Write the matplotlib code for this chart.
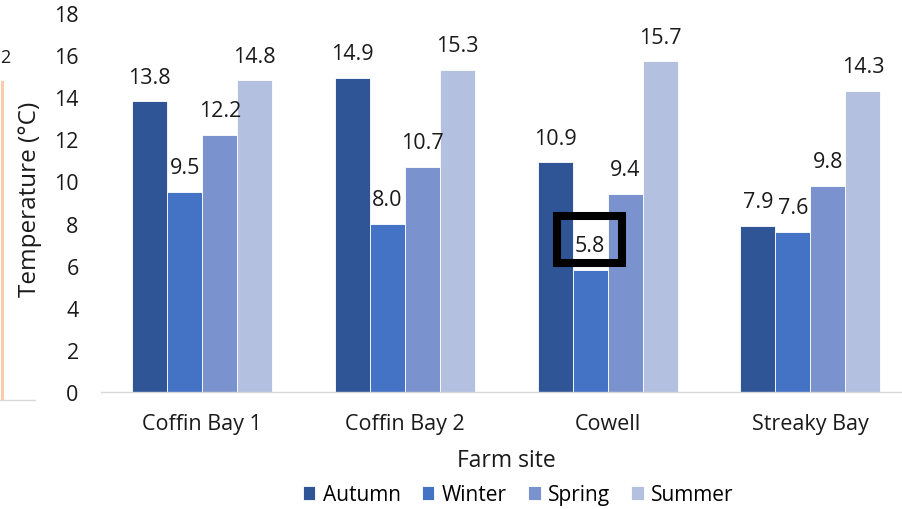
import matplotlib
matplotlib.use("Agg")
import matplotlib.pyplot as plt
import numpy as np
from matplotlib.patches import Rectangle
from matplotlib.lines import Line2D

plt.rcParams['font.family'] = ['Open Sans', 'DejaVu Sans']

sites = ["Coffin Bay 1", "Coffin Bay 2", "Cowell", "Streaky Bay"]
seasons = ["Autumn", "Winter", "Spring", "Summer"]
autumn = [13.8, 14.9, 10.9, 7.9]
winter = [9.5, 8.0, 5.8, 7.6]
spring = [12.2, 10.7, 9.4, 9.8]
summer = [14.8, 15.3, 15.7, 14.3]
season_colors = ["#2F5597", "#4472C4", "#7A93CF", "#B4C0E0"]
y_ticks = [0, 2, 4, 6, 8, 10, 12, 14, 16, 18]

W, H = 902, 510
fig = plt.figure(figsize=(W / 100, H / 100), dpi=100)
ax = fig.add_axes([100.9 / W, 117 / H, 810.8 / W, 379 / H])

x = np.arange(len(sites))
bw = 0.1727
series = [autumn, winter, spring, summer]
for i, (name, vals, col) in enumerate(zip(seasons, series, season_colors)):
    offs = (i - 1.5) * bw
    bars = ax.bar(x + offs, vals, bw, color=col, label=name,
                  edgecolor="white", linewidth=0.6, zorder=2)
    for b, v in zip(bars, vals):
        ax.annotate(f"{v:.1f}", (b.get_x() + b.get_width() / 2, v),
                    xytext=(0, 17.5), textcoords="offset points",
                    ha="center", va="center", fontsize=15.5, color="#1a1a1a")

ax.set_xlim(-0.5, 3.5)
ax.set_ylim(0, 18)
ax.set_yticks(y_ticks)
ax.set_xticks(x)
ax.set_xticklabels(sites)
ax.tick_params(axis="both", length=0, labelsize=15.5, colors="#1a1a1a")
ax.tick_params(axis="y", pad=16)
ax.tick_params(axis="x", pad=15)
for s in ["top", "right", "left"]:
    ax.spines[s].set_visible(False)
ax.spines["bottom"].set_color("#D9D9D9")
ax.spines["bottom"].set_linewidth(1.0)
ax.spines["bottom"].set_zorder(3)

fig.text(30 / W, 1 - 199 / H, "Temperature (°C)", rotation=90,
         ha="center", va="center", fontsize=17.5, color="#1a1a1a")
fig.text(506 / W, 1 - 461 / H, "Farm site", ha="center", va="center",
         fontsize=16.5, color="#1a1a1a")

ax.legend(loc="center", bbox_to_anchor=(518 / W, 1 - 496 / H),
          bbox_transform=fig.transFigure, ncol=4, frameon=False,
          fontsize=15, handlelength=0.62, handleheight=0.62,
          handletextpad=0.35, columnspacing=1.0, borderpad=0)

# highlight box around the Cowell winter value
fig.add_artist(Rectangle((557 / W, 1 - 264 / H), 65 / W, 47 / H,
                         transform=fig.transFigure, fill=False,
                         edgecolor="black", linewidth=5.8, zorder=10))

# edge of the neighbouring panel
fig.add_artist(Line2D([1.5 / W, 1.5 / W], [1 - 400 / H, 1 - 83 / H],
                      transform=fig.transFigure, color="#F8CBAD", linewidth=2.2))
fig.add_artist(Line2D([0, 35 / W], [1 - 401 / H, 1 - 401 / H],
                      transform=fig.transFigure, color="#D9D9D9", linewidth=1.0))
fig.text(0, 1 - 58 / H, "2", ha="left", va="center", fontsize=13,
         color="#1a1a1a")

fig.savefig("out.png", dpi=100)
